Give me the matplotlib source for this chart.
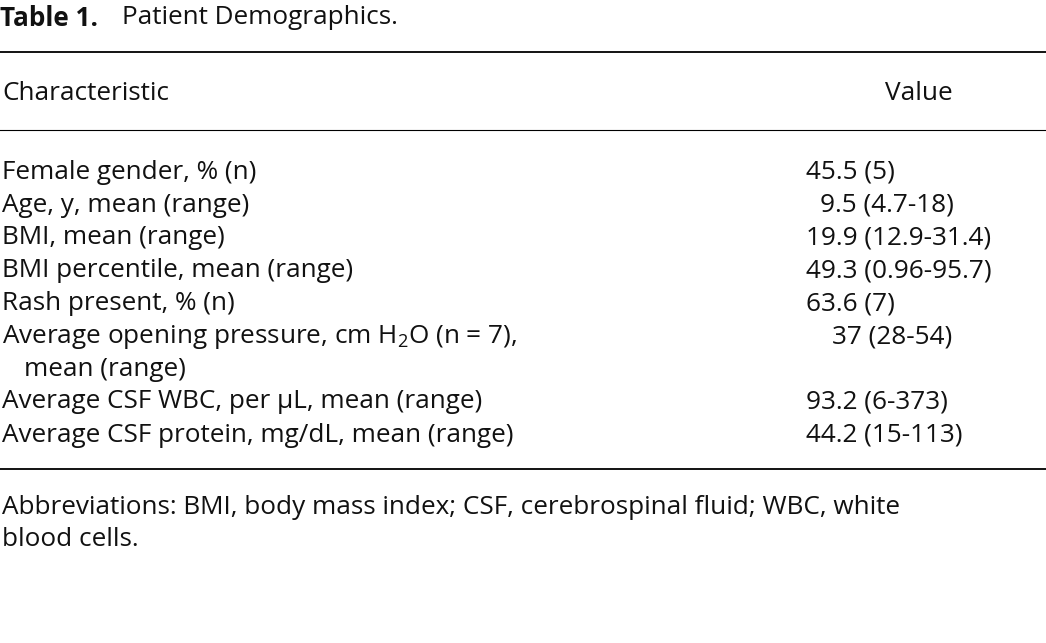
import matplotlib
matplotlib.use("Agg")
import matplotlib.pyplot as plt

plt.rcParams['font.family'] = ['Open Sans', 'DejaVu Sans']
plt.rcParams['mathtext.fontset'] = 'custom'
plt.rcParams['mathtext.rm'] = 'Open Sans'
plt.rcParams['mathtext.it'] = 'Open Sans:italic'

title_bold = "Table 1."
title_rest = "Patient Demographics."
header = ["Characteristic", "Value"]
characteristics = [
    "Female gender, % (n)",
    "Age, y, mean (range)",
    "BMI, mean (range)",
    "BMI percentile, mean (range)",
    "Rash present, % (n)",
    "Average opening pressure, cm H$_2$O (n = 7),",
    "Average CSF WBC, per μL, mean (range)",
    "Average CSF protein, mg/dL, mean (range)",
]
continuation = {5: "mean (range)"}
values = ["45.5 (5)", "9.5 (4.7-18)", "19.9 (12.9-31.4)", "49.3 (0.96-95.7)",
          "63.6 (7)", "37 (28-54)", "93.2 (6-373)", "44.2 (15-113)"]
footnote = ["Abbreviations: BMI, body mass index; CSF, cerebrospinal fluid; WBC, white",
            "blood cells."]

W, H = 1046, 643
fig = plt.figure(figsize=(W/100, H/100), dpi=100)
FS = 18.8

def T(x, y, s, **kw):
    fig.text(x/W, 1 - y/H, s, va='center', fontsize=FS, color='#111111', **kw)

def L(y, lw):
    fig.add_artist(plt.Line2D([0, 1], [1 - y/H]*2, color='black', lw=lw))

T(0, 18, title_bold, fontweight='bold')
T(122, 18, title_rest)
L(52, 1.3)
T(2, 93, header[0])
T(885, 93, header[1])
L(130, 0.8)

ys = [172, 205, 238, 271, 304, 337, 402, 435]
for i, (c, v, y) in enumerate(zip(characteristics, values, ys)):
    T(2, y, c)
    num = v.split(' ')[0]
    shift = {"9.5": 14, "37": 26}.get(num, 0)
    T(806 + shift, y, v)
    if i in continuation:
        T(24, y + 32, continuation[i])
L(469, 1.3)
T(2, 507, footnote[0])
T(2, 540, footnote[1])

fig.savefig("out.png", dpi=100)
